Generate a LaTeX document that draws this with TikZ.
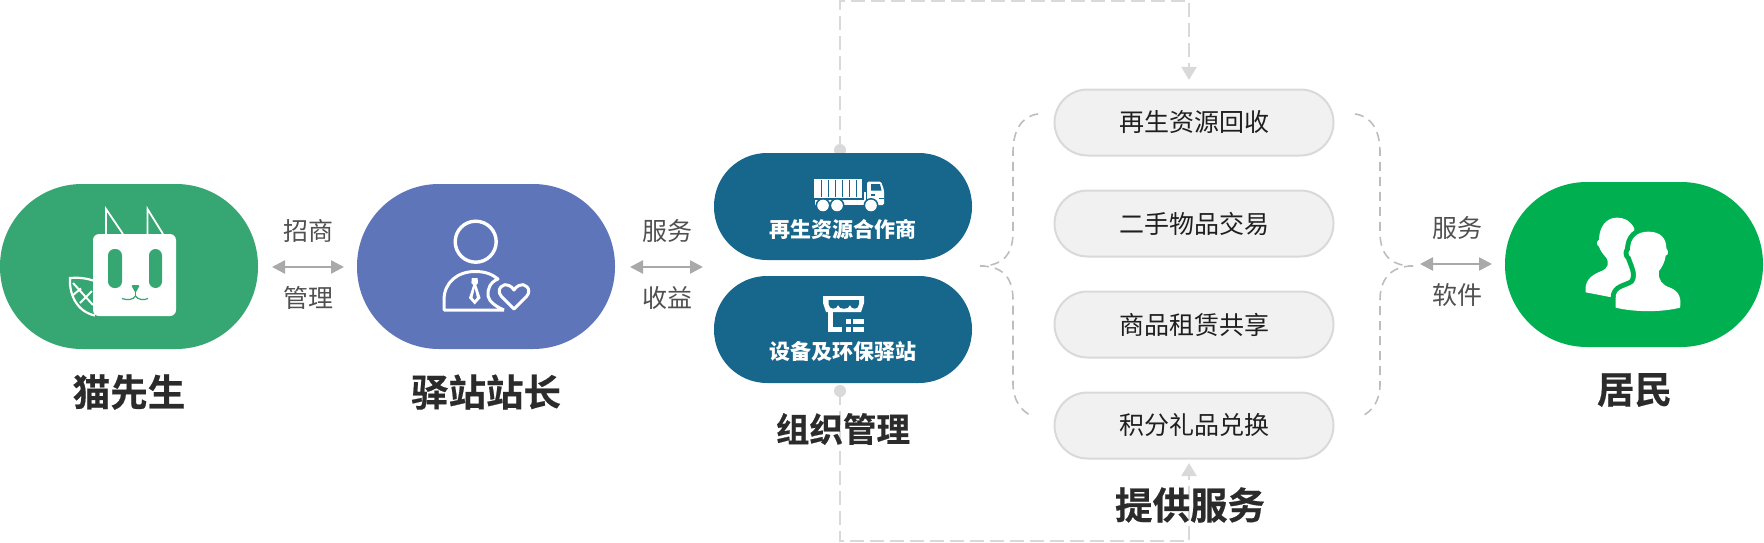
\documentclass[tikz,border=0pt]{standalone}
\usepackage{fontspec}
\setmainfont{Noto Sans CJK SC}
\newfontfamily\cjkheavy{Noto Sans CJK SC}[FakeBold=0.5,UprightFont=* Bold]
\usetikzlibrary{arrows.meta,calc}
\definecolor{catgreen}{HTML}{36A672}
\definecolor{stationblue}{HTML}{5E75B9}
\definecolor{deepblue}{HTML}{17668C}
\definecolor{peoplegreen}{HTML}{00B050}
\definecolor{svcfill}{HTML}{F1F1F1}
\definecolor{svcline}{HTML}{D9D9D9}
\definecolor{arrowgrey}{HTML}{A9A9A9}
\definecolor{bracegrey}{HTML}{BDBDBD}
\definecolor{labelgrey}{HTML}{505050}
\definecolor{headdark}{HTML}{2B2B2B}
\tikzset{
  bigpill/.style={rectangle,rounded corners=82pt,minimum width=258pt,minimum height=165pt,inner sep=0pt,fill=#1},
  midpill/.style={rectangle,rounded corners=53pt,minimum width=258pt,minimum height=107pt,inner sep=0pt,fill=deepblue},
  svcpill/.style={rectangle,rounded corners=33pt,minimum width=279pt,minimum height=66pt,inner sep=0pt,fill=svcfill,draw=svcline,line width=2pt,
    font=\fontsize{25}{30}\selectfont,text=black!88},
  smalllabel/.style={inner sep=0pt,font=\fontsize{25}{30}\selectfont,text=labelgrey},
  headlabel/.style={inner sep=0pt,font=\fontsize{37.5}{44}\cjkheavy\selectfont,text=headdark},
  pilllabel/.style={inner sep=0pt,font=\fontsize{21}{26}\selectfont\bfseries,text=white},
  biarrow/.style={{Triangle[length=13pt,width=13pt]}-{Triangle[length=13pt,width=13pt]},draw=arrowgrey,line width=2.5pt},
  flowline/.style={draw=svcline,line width=2.2pt,dash pattern=on 14pt off 6pt,-{Triangle[length=13pt,width=15pt]}},
  bracket/.style={draw=bracegrey,line width=1.6pt,dash pattern=on 9pt off 6pt},
  flowdot/.style={circle,fill=svcline,minimum size=12pt,inner sep=0pt}
}
\begin{document}
\begin{tikzpicture}[x=1pt,y=-1pt]
\useasboundingbox (0,0) rectangle (1764,543);
% flow lines below everything
\node[flowdot] (dotT) at (840,150) {};
\node[flowdot] (dotB) at (840,391) {};
\node[svcpill] (s1) at (1194,122.5) {再生资源回收};
\node[svcpill] (s2) at (1194,223.5) {二手物品交易};
\node[svcpill] (s3) at (1194,324.5) {商品租赁共享};
\node[svcpill] (s4) at (1194,425.5) {积分礼品兑换};
\coordinate (tl) at (840,1); \coordinate (tr) at (1189,1); \coordinate (tt) at (1189,80);
\coordinate (bl) at (840,541); \coordinate (br) at (1189,541); \coordinate (bt) at (1189,463);
\draw[flowline] (dotT.center) -- (tl) -- (tr) -- (tt);
\draw[flowline] (dotB.center) -- (bl) -- (br) -- (bt);
% pills
\node[bigpill=catgreen] (cat) at (129,266.5) {};
\node[bigpill=stationblue] (station) at (486,266.5) {};
\node[midpill] (partner) at (843,206.5) {};
\node[midpill] (post) at (843,329.5) {};
\node[bigpill=peoplegreen] (people) at (1634,264.5) {};
% double arrows
\coordinate (a1l) at (272,267); \coordinate (a1r) at (344,267);
\coordinate (a2l) at (630,267); \coordinate (a2r) at (703,267);
\coordinate (a3l) at (1420,264); \coordinate (a3r) at (1492,264);
\draw[biarrow] (a1l) -- (a1r);
\draw[biarrow] (a2l) -- (a2r);
\draw[biarrow] (a3l) -- (a3r);
% braces
\coordinate (ltop) at (1038,114); \coordinate (lbot) at (1032,416); \coordinate (ltip) at (980,266);
\coordinate (rtop) at (1355,114); \coordinate (rbot) at (1362,416); \coordinate (rtip) at (1413,266);
\draw[bracket] (ltop) .. controls (1022,116) and (1013,130) .. (1013,152) -- (1013,232)
   .. controls (1013,252) and (1005,266) .. (ltip);
\draw[bracket] (ltip) .. controls (1005,266) and (1013,280) .. (1013,300) -- (1013,384)
   .. controls (1013,400) and (1021,411) .. (lbot);
\draw[bracket] (rtop) .. controls (1371,116) and (1380,130) .. (1380,152) -- (1380,232)
   .. controls (1380,252) and (1388,266) .. (rtip);
\draw[bracket] (rtip) .. controls (1390,266) and (1380,280) .. (1380,300) -- (1380,384)
   .. controls (1380,400) and (1373,411) .. (rbot);
% labels
\node[smalllabel] (t1) at (308,231) {招商};
\node[smalllabel] (t2) at (308,298) {管理};
\node[smalllabel] (t3) at (667,231) {服务};
\node[smalllabel] (t4) at (667,298) {收益};
\node[smalllabel] (t5) at (1457,228) {服务};
\node[smalllabel] (t6) at (1457,295) {软件};
\node[headlabel] (h1) at (129,392) {猫先生};
\node[headlabel] (h2) at (486,392) {驿站站长};
\node[headlabel,font=\fontsize{33.5}{40}\cjkheavy\selectfont] (h3) at (843,429) {组织管理};
\node[headlabel] (h4) at (1190,505) {提供服务};
\node[headlabel] (h5) at (1634.5,390) {居民};
\node[pilllabel] (p1) at (843,229) {再生资源合作商};
\node[pilllabel] (p2) at (843,351) {设备及环保驿站};
% cat icon
\fill[white,rounded corners=6pt] (93,234) rectangle (176,316);
\draw[white,line width=1.8pt,line join=miter] (106,234) -- (106,209) -- (123,234);
\draw[white,line width=1.8pt,line join=miter] (147.5,234) -- (147.5,209) -- (163,234);
\fill[catgreen,rounded corners=6.5pt] (108,249) rectangle (122,288);
\fill[catgreen,rounded corners=6.5pt] (149,249) rectangle (162,288);
\fill[catgreen,rounded corners=1.5pt] (131,285) -- (140,285) -- (135.5,293) -- cycle;
\draw[catgreen,line width=1.2pt] (135.5,290) -- (135.5,296);
\draw[catgreen,line width=1.2pt] (122,298.5) .. controls (127,300.5) and (133,300) .. (135.5,296)
   .. controls (138,300) and (144,300.5) .. (148,298.5);
\draw[white,line width=2.2pt] (93,280.5) .. controls (84,277.5) and (76,277.5) .. (70,278)
   .. controls (69,296) and (78,312) .. (95,315.5);
\draw[white,line width=2pt] (73,283) -- (93,305);
\draw[white,line width=2pt] (73,295) -- (81,288.5) (80,303) -- (92,291);
% station master icon
\draw[white,line width=3.4pt] (475.7,241.7) circle (20.5pt);
\draw[white,line width=3pt,line join=round] (504,310) -- (444,310) -- (444,300)
  .. controls (444,282) and (458,271.5) .. (475,271.5)
  .. controls (485,271.5) and (492,274) .. (498,279)
  .. controls (490,282) and (487,290) .. (488,296) .. controls (489,302) and (497,307) .. (504,310);
\fill[white] (471.8,278) -- (477.6,278) -- (478,283) -- (476.3,285) -- (480.5,298) -- (474.7,304.5) -- (469,298) -- (473.2,285) -- (471.4,283) -- cycle;
\fill[stationblue] (474.7,288.5) -- (476.8,297.5) -- (474.7,300) -- (472.6,297.5) -- cycle;
\draw[white,line width=3pt,line join=round] (514,309)
  -- (501.5,296.5) .. controls (495,289) and (504,282) .. (509,285.5)
  .. controls (511,286.5) and (513,288) .. (514,290)
  .. controls (515,288) and (517,286.5) .. (519,285.5)
  .. controls (524,282) and (533,289) .. (526.5,296.5) -- cycle;
% truck icon
\fill[white] (814,178.5) rectangle (862,198);
\foreach \sx in {820.5,827.5,834.5,841.5,848.5,855.5}{\fill[deepblue] (\sx,180) rectangle (\sx+1.2,197);}
\fill[white] (815,200) rectangle (868,205);
\fill[white] (863.5,192) rectangle (866,205);
\fill[white,rounded corners=1.5pt] (867,181.5) -- (881,181.5) -- (884,190) -- (884,205) -- (867,205) -- cycle;
\fill[deepblue] (871,184) -- (880,184) -- (881.5,190.5) -- (871,190.5) -- cycle;
\fill[deepblue] (871,194) rectangle (875,195.5);
\fill[deepblue] (879,198) rectangle (884,199);
\foreach \wx in {823,837,871}{
  \fill[deepblue] (\wx,205.5) circle (7.5pt);
  \fill[white] (\wx,205.5) circle (5.8pt);
}
% store icon
\fill[white] (823,296) -- (864,296) -- (864,303) -- (861,312) -- (826,312) -- (823,303) -- cycle;
\fill[deepblue] (828.5,300) -- (859,300) -- (859,304)
  .. controls (859,310) and (851,310) .. (850,305)
  .. controls (849,310) and (839,310) .. (838,305)
  .. controls (837,310) and (829,310) .. (828.5,304) -- cycle;
\fill[white] (828,312) rectangle (833,332);
\fill[white] (828,327) rectangle (842,332);
\fill[white] (846,319) rectangle (851,324);
\fill[white] (853,319) rectangle (864,324);
\fill[white] (846,327) rectangle (851,332);
\fill[white] (853,327) rectangle (864,332);
% people icon
\begin{scope}[shift={(1575,205)},x=0.3333pt,y=-0.3333pt]
\fill[white] (32,262) .. controls (28,230) and (45,212) .. (75,200)
  .. controls (105,190) and (100,170) .. (95,160)
  .. controls (82,145) and (75,135) .. (72,125)
  .. controls (62,120) and (66,105) .. (72,105)
  .. controls (72,65) and (95,38) .. (125,38)
  .. controls (150,38) and (170,50) .. (178,72)
  -- (190,240) -- (105,276) -- cycle;
\def\frontperson{(122,308) .. controls (180,322) and (260,322) .. (315,308)
  .. controls (320,280) and (312,258) .. (285,248)
  .. controls (262,240) and (248,225) .. (252,198)
  .. controls (262,185) and (270,170) .. (272,152)
  .. controls (282,150) and (280,135) .. (274,130)
  .. controls (274,98) and (255,80) .. (220,80)
  .. controls (185,80) and (165,100) .. (165,135)
  .. controls (158,140) and (160,152) .. (167,155)
  .. controls (172,175) and (195,210) .. (175,235)
  .. controls (155,250) and (120,248) .. (122,280) -- cycle}
\draw[peoplegreen,line width=10pt,line join=round] \frontperson;
\fill[white] \frontperson;
\end{scope}
\end{tikzpicture}
\end{document}
